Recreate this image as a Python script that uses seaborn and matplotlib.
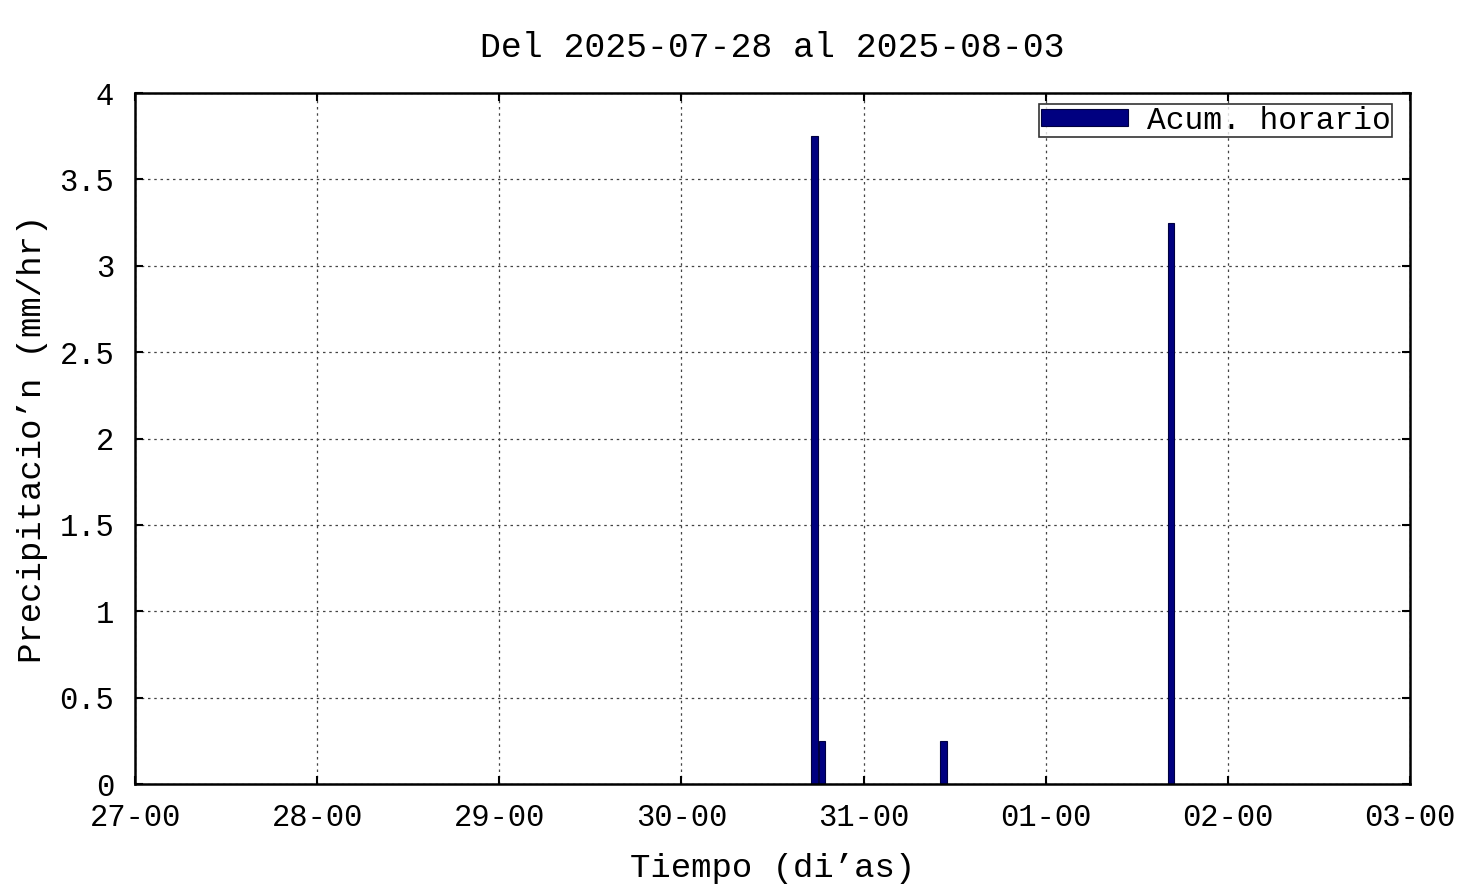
import matplotlib
matplotlib.use('Agg')
import matplotlib.pyplot as plt
import matplotlib.dates as mdates
import pandas as pd
import seaborn as sns

# Hourly rain accumulation (mm/hr), bars centred on the hour bin
times = ['2025-07-30 17:30', '2025-07-30 18:30', '2025-07-31 10:30', '2025-08-01 16:30']
rain = [3.75, 0.25, 0.25, 3.25]
title = 'Del 2025-07-28 al 2025-08-03'
x_start, x_end = '2025-07-27', '2025-08-03'

df = pd.DataFrame({'t': mdates.date2num(pd.to_datetime(times)), 'rain': rain})

sns.set_style('white', {'text.color': 'black', 'axes.labelcolor': 'black',
                        'xtick.color': 'black', 'ytick.color': 'black'})
plt.rcParams['font.family'] = ['Liberation Mono', 'DejaVu Sans Mono']

fig = plt.figure(figsize=(14.76, 8.85), dpi=100)
ax = fig.add_axes([0.0915, 0.1141, 0.8638, 0.7808])

sns.barplot(data=df, x='t', y='rain', native_scale=True, width=0.85,
            color='#000080', saturation=1, edgecolor='#000040', linewidth=0.8,
            label='Acum. horario', ax=ax)

ax.set_xlim(mdates.date2num(pd.Timestamp(x_start)), mdates.date2num(pd.Timestamp(x_end)))
ax.set_ylim(0, 4)
ax.xaxis.set_major_locator(mdates.DayLocator())
ax.xaxis.set_major_formatter(mdates.DateFormatter('%d-%H'))
ax.set_yticks([0, 0.5, 1, 1.5, 2, 2.5, 3, 3.5, 4])
ax.set_yticklabels(['0', '0.5', '1', '1.5', '2', '2.5', '3', '3.5', '4'])

ax.grid(True, color='#444444', linestyle=(0, (2, 3)), linewidth=0.9)
ax.set_axisbelow(True)
for s in ax.spines.values():
    s.set_visible(True)
    s.set_color('black')
    s.set_linewidth(1.8)
ax.tick_params(direction='in', length=6, width=1.5, top=True, right=True,
               bottom=True, left=True, labelsize=22)
ax.tick_params(axis='y', pad=15)
ax.tick_params(axis='x', pad=14)

ax.set_title(title, fontsize=25, pad=26)
ax.set_xlabel('Tiempo (di’as)', fontsize=24.5, labelpad=14)
ax.set_ylabel('Precipitacio’n (mm/hr)', fontsize=24.5, labelpad=8)

leg = ax.legend(loc='upper right', bbox_to_anchor=(0.986, 0.984), fontsize=22.5,
                frameon=True, fancybox=False, handlelength=2.8, handleheight=0.5,
                borderpad=0.05, borderaxespad=0, handletextpad=0.6)
leg.get_frame().set_edgecolor('black')
leg.get_frame().set_linewidth(1.2)

fig.savefig('out.png', dpi=100)
